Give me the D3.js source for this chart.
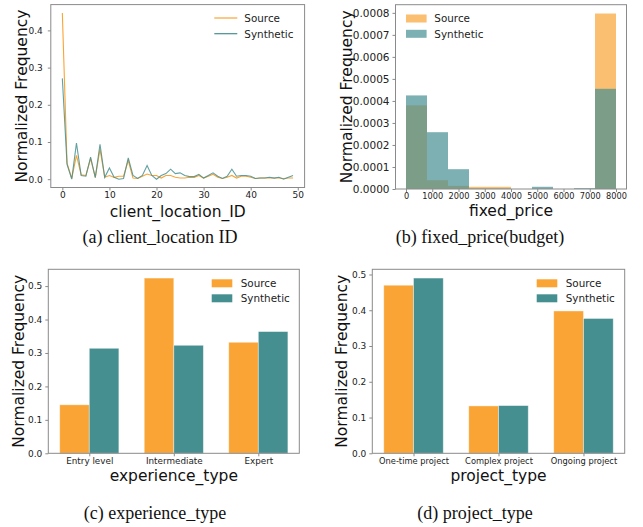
<!DOCTYPE html>
<html>
<head>
<meta charset="utf-8">
<script src="https://cdn.jsdelivr.net/npm/d3@7"></script>
<style>
  body { margin: 0; background: #fff; }
</style>
</head>
<body>
<svg id="chart" width="643" height="527"></svg>
<script>
// (a) client_location_ID
const locationIds = [0,1,2,3,4,5,6,7,8,9,10,11,12,13,14,15,16,17,18,19,20,21,22,23,24,25,26,27,28,29,
                     30,31,32,33,34,35,36,37,38,39,40,41,42,43,44,45,46,47,48,49];
const locationSource = [0.447,0.043,0.002,0.064,0.012,0.010,0.055,0.005,0.080,0.005,0.010,0.005,0.008,0.008,0.050,
                        0.003,0.002,0.008,0.014,0.010,0.010,0.003,0.010,0.010,0.005,0.003,0.003,0.005,0.005,0.010,
                        0.003,0.008,0.013,0.005,0.002,0.005,0.010,0.003,0.008,0.008,0.005,0.002,0.003,0.003,0.003,
                        0.003,0.003,0.002,0.003,0.003];
const locationSynthetic = [0.271,0.040,0.000,0.097,0.010,0.008,0.059,0.004,0.094,0.005,0.030,0.005,0.000,0.002,0.057,
                           0.010,0.002,0.010,0.037,0.010,0.000,0.010,0.015,0.027,0.015,0.017,0.010,0.007,0.007,0.013,
                           0.003,0.010,0.017,0.008,0.002,0.008,0.027,0.008,0.010,0.010,0.008,0.002,0.003,0.003,0.005,
                           0.003,0.005,0.000,0.005,0.010];

// (b) fixed_price histogram
const priceBinEdges = [0,800,1600,2400,3200,4000,4800,5600,6400,7200,8000];
const priceSource = [0.000380,0.000040,0.000014,0.000010,0.000010,0,0,0,0,0.000797];
const priceSynthetic = [0.000425,0.000258,0.000090,0.000002,0.000002,0,0.000010,0,0.000004,0.000455];

// (c) experience_type
const experienceTypes = ["Entry level", "Intermediate", "Expert"];
const experienceSource = [0.145, 0.524, 0.332];
const experienceSynthetic = [0.314, 0.323, 0.364];

// (d) project_type
const projectTypes = ["One-time project", "Complex project", "Ongoing project"];
const projectSource = [0.470, 0.1325, 0.398];
const projectSynthetic = [0.490, 0.1334, 0.377];

const seriesNames = ["Source", "Synthetic"];
const captions = ["(a) client_location ID", "(b) fixed_price(budget)", "(c) experience_type", "(d) project_type"];

const FONT = "DejaVu Sans";
const ORANGE = "#f9a434";
const TEAL = "#468f91";
const FRAME = "#8a8a8a";

const svg = d3.select("#chart");

function drawAxes(p, x, y, o) {
  const ya = p.append("g")
    .attr("transform", `translate(${o.left},0)`)
    .call(d3.axisLeft(y).tickValues(o.yTicks).tickFormat(o.yFmt)
      .tickSize(3).tickPadding(o.yPad).tickSizeOuter(0));
  ya.select(".domain").remove();
  ya.attr("font-family", FONT).attr("font-size", o.yFont);

  const xa = p.append("g")
    .attr("transform", `translate(0,${o.bottom})`)
    .call(d3.axisBottom(x).tickValues(o.xTicks).tickFormat(o.xFmt)
      .tickSize(3).tickPadding(o.xPad).tickSizeOuter(0));
  xa.select(".domain").remove();
  xa.attr("font-family", FONT).attr("font-size", o.xFont);

  p.selectAll(".tick line").attr("stroke", FRAME);
  p.selectAll(".tick text").attr("fill", "#222");

  // frame
  p.append("rect")
    .attr("x", o.left).attr("y", o.top)
    .attr("width", o.right - o.left).attr("height", o.bottom - o.top)
    .attr("fill", "none").attr("stroke", FRAME).attr("stroke-width", 1);

  // axis titles
  p.append("text")
    .attr("x", (o.left + o.right) / 2).attr("y", o.xLabelY)
    .attr("text-anchor", "middle")
    .attr("font-family", FONT).attr("font-size", 15.5).attr("fill", "#111")
    .text(o.xLabel);

  p.append("text")
    .attr("transform", `translate(${o.yLabelX},${(o.top + o.bottom) / 2}) rotate(-90)`)
    .attr("text-anchor", "middle")
    .attr("font-family", FONT).attr("font-size", 15.5).attr("fill", "#111")
    .text("Normalized Frequency");
}

function legend(p, lx, tx, ys, kind, opacity) {
  seriesNames.forEach((name, i) => {
    const c = i === 0 ? ORANGE : TEAL;
    if (kind === "line") {
      p.append("line")
        .attr("x1", lx).attr("x2", lx + 23).attr("y1", ys[i]).attr("y2", ys[i])
        .attr("stroke", c).attr("stroke-width", 1.2);
    } else {
      p.append("rect")
        .attr("x", lx).attr("y", ys[i] - 4).attr("width", 20.6).attr("height", 8)
        .attr("fill", c).attr("fill-opacity", opacity);
    }
    p.append("text")
      .attr("x", tx).attr("y", ys[i] + 3.8)
      .attr("font-family", FONT).attr("font-size", 10.4).attr("fill", "#222")
      .text(name);
  });
}

// ---------- (a) line chart ----------
{
  const o = { left: 50.8, right: 304.6, top: 4.6, bottom: 187.5 };
  const x = d3.scaleLinear().domain([-2.45, 51.45]).range([o.left, o.right]);
  const y = d3.scaleLinear().domain([-0.02235, 0.46935]).range([o.bottom, o.top]);
  const p = svg.append("g");

  const line = d3.line().x((d, i) => x(locationIds[i])).y(d => y(d));
  p.append("path").datum(locationSource)
    .attr("d", line).attr("fill", "none").attr("stroke", ORANGE).attr("stroke-width", 1.1);
  p.append("path").datum(locationSynthetic)
    .attr("d", line).attr("fill", "none").attr("stroke", TEAL).attr("stroke-opacity", 0.85).attr("stroke-width", 1.1);

  drawAxes(p, x, y, Object.assign(o, {
    yTicks: [0, 0.1, 0.2, 0.3, 0.4], yFmt: d3.format(".1f"), yPad: 5, yFont: 9,
    xTicks: [0, 10, 20, 30, 40, 50], xFmt: d3.format("d"), xPad: 1, xFont: 9,
    xLabel: "client_location_ID", xLabelY: 216.5, yLabelX: 26.5
  }));
  legend(p, 214.3, 244.3, [18, 33.7], "line");
}

// ---------- (b) histogram ----------
{
  const o = { left: 395.5, right: 626.5, top: 4.7, bottom: 189 };
  const x = d3.scaleLinear().domain([-400, 8400]).range([o.left, o.right]);
  const y = d3.scaleLinear().domain([0, 0.000837]).range([o.bottom, o.top]);
  const p = svg.append("g");

  [[priceSource, ORANGE], [priceSynthetic, TEAL]].forEach(([vals, c]) => {
    p.append("g").selectAll("rect")
      .data(vals)
      .join("rect")
      .attr("x", (d, i) => x(priceBinEdges[i]))
      .attr("width", (d, i) => x(priceBinEdges[i + 1]) - x(priceBinEdges[i]))
      .attr("y", d => y(d))
      .attr("height", d => y(0) - y(d))
      .attr("fill", c).attr("fill-opacity", 0.7);
  });

  drawAxes(p, x, y, Object.assign(o, {
    yTicks: [0, 0.0001, 0.0002, 0.0003, 0.0004, 0.0005, 0.0006, 0.0007, 0.0008], yFmt: d3.format(".4f"), yPad: 3, yFont: 10.5,
    xTicks: [0, 1000, 2000, 3000, 4000, 5000, 6000, 7000, 8000], xFmt: d3.format("d"), xPad: 1, xFont: 8.2,
    xLabel: "fixed_price", xLabelY: 216, yLabelX: 351.5
  }));
  legend(p, 406, 434.3, [18.5, 33.8], "patch", 0.7);
}

// ---------- grouped bar panels ----------
function barPanel(o, cats, src, syn, xLabel) {
  const x = d3.scaleLinear().domain([-0.485, 2.485]).range([o.left, o.right]);
  const y = d3.scaleLinear().domain(o.yDomain).range([o.bottom, o.top]);
  const p = svg.append("g");
  const w = 0.35;

  [[src, ORANGE, -w], [syn, TEAL, 0]].forEach(([vals, c, off]) => {
    p.append("g").selectAll("rect")
      .data(vals)
      .join("rect")
      .attr("x", (d, i) => x(i + off))
      .attr("width", x(w) - x(0))
      .attr("y", d => y(d))
      .attr("height", d => y(0) - y(d))
      .attr("fill", c)
      .attr("stroke", "#fff").attr("stroke-opacity", 0.5).attr("stroke-width", 0.8);
  });

  drawAxes(p, x, y, Object.assign(o, {
    yTicks: [0, 0.1, 0.2, 0.3, 0.4, 0.5], yFmt: d3.format(".1f"), yPad: 3, yFont: 9,
    xTicks: [0, 1, 2], xFmt: i => cats[i], xPad: 1.5, xFont: o.xFont,
    xLabel: xLabel, xLabelY: 480.5
  }));
  legend(p, o.legX, o.legX + 29, [283.3, 298.3], "patch", 1);
}

barPanel({ left: 48.3, right: 299.3, top: 269.3, bottom: 453.3, yDomain: [0, 0.5502],
           xFont: 8.8, yLabelX: 24, legX: 211.7 },
         experienceTypes, experienceSource, experienceSynthetic, "experience_type");

barPanel({ left: 372.3, right: 624.7, top: 269.3, bottom: 453.3, yDomain: [0, 0.5145],
           xFont: 8.3, yLabelX: 347.3, legX: 536.7 },
         projectTypes, projectSource, projectSynthetic, "project_type");

// ---------- captions ----------
const capPos = [[160, 243], [480, 243], [155, 519], [475, 519]];
svg.append("g").selectAll("text")
  .data(captions)
  .join("text")
  .attr("x", (d, i) => capPos[i][0])
  .attr("y", (d, i) => capPos[i][1])
  .attr("text-anchor", "middle")
  .attr("font-family", "Liberation Serif")
  .attr("font-size", 18)
  .attr("fill", "#111")
  .text(d => d);
</script>
</body>
</html>
